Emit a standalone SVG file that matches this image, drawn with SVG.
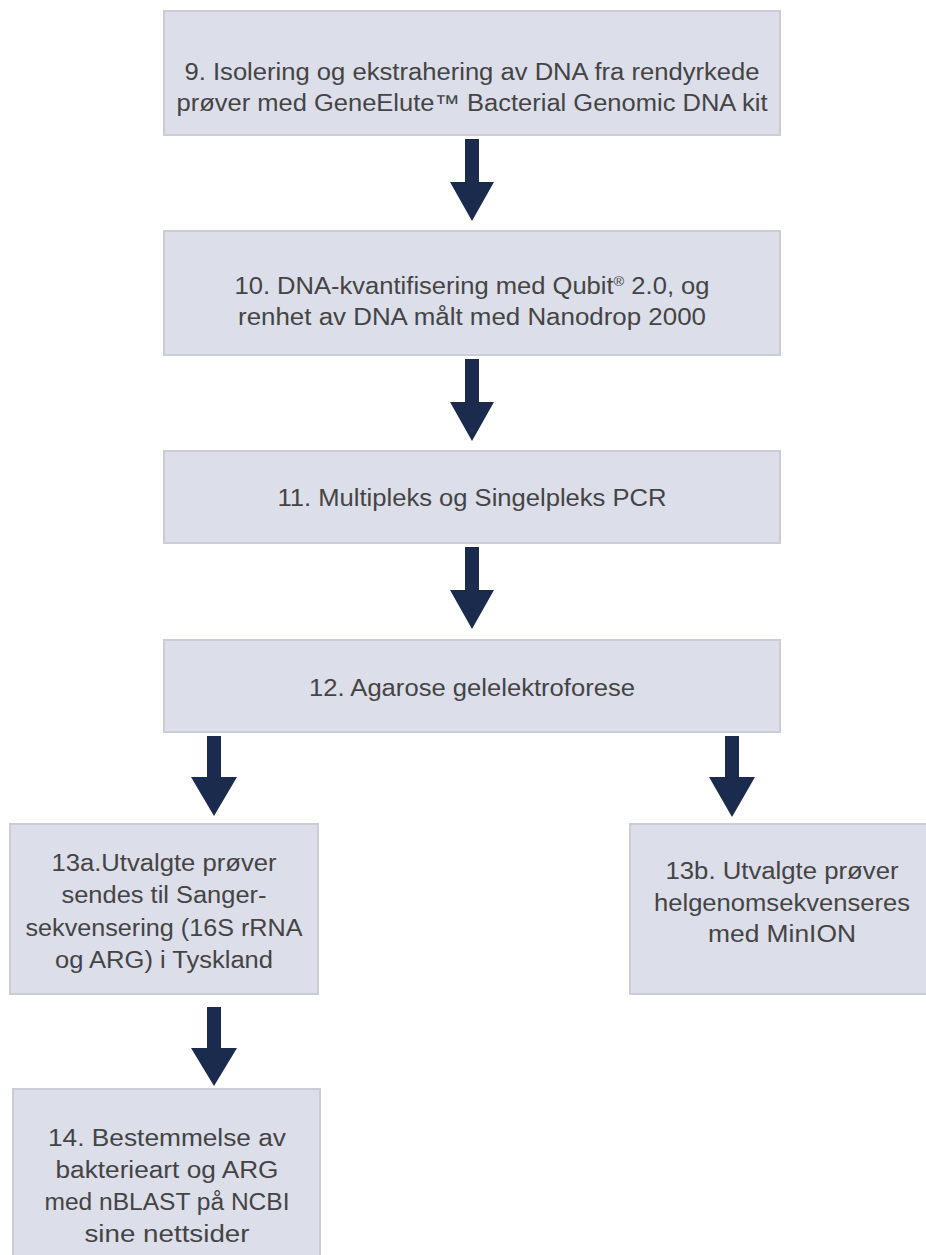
<svg xmlns="http://www.w3.org/2000/svg" width="926" height="1255" viewBox="0 0 926 1255">
<style>
.box{fill:#dcdeea;stroke:#cbccd6;stroke-width:2}
.t{font-family:"Liberation Sans",Arial,sans-serif;font-size:23px;fill:#444444;text-anchor:middle}
.sup{font-size:13px}
.arr{fill:#1b2b4d}
</style>
<rect width="926" height="1255" fill="#ffffff"/>
<g id="connectors">
<path class="arr" d="M465 139 H479 V182 H494 L472 221 L450 182 H465 Z"/>
<path class="arr" d="M465 359 H479 V402 H494 L472 441 L450 402 H465 Z"/>
<path class="arr" d="M465 547 H479 V590 H494 L472 629 L450 590 H465 Z"/>
<path class="arr" d="M207 736 H221 V777 H237 L214 816 L191 777 H207 Z"/>
<path class="arr" d="M725 736 H739 V777 H755 L732 817 L709 777 H725 Z"/>
<path class="arr" d="M207 1007 H221 V1048 H237 L214 1086 L191 1048 H207 Z"/>
</g>
<g id="n9">
<rect class="box" x="164" y="11" width="616" height="124"/>
<text class="t" x="472" y="80" textLength="575" lengthAdjust="spacingAndGlyphs">9. Isolering og ekstrahering av DNA fra rendyrkede</text>
<text class="t" x="472" y="111" textLength="591" lengthAdjust="spacingAndGlyphs">prøver med GeneElute™ Bacterial Genomic DNA kit</text>
</g>
<g id="n10">
<rect class="box" x="164" y="231" width="616" height="124"/>
<text class="t" x="472" y="294" textLength="475" lengthAdjust="spacingAndGlyphs">10. DNA-kvantifisering med Qubit<tspan class="sup" dy="-8">®</tspan><tspan dy="8"> 2.0, og</tspan></text>
<text class="t" x="472" y="325" textLength="468" lengthAdjust="spacingAndGlyphs">renhet av DNA målt med Nanodrop 2000</text>
</g>
<g id="n11">
<rect class="box" x="164" y="451" width="616" height="92"/>
<text class="t" x="472" y="506" textLength="389" lengthAdjust="spacingAndGlyphs">11. Multipleks og Singelpleks PCR</text>
</g>
<g id="n12">
<rect class="box" x="164" y="640" width="616" height="92"/>
<text class="t" x="472" y="696" textLength="326" lengthAdjust="spacingAndGlyphs">12. Agarose gelelektroforese</text>
</g>
<g id="n13a">
<rect class="box" x="10" y="824" width="308" height="170"/>
<text class="t" x="164" y="871" textLength="225" lengthAdjust="spacingAndGlyphs">13a.Utvalgte prøver</text>
<text class="t" x="164" y="903" textLength="205" lengthAdjust="spacingAndGlyphs">sendes til Sanger-</text>
<text class="t" x="164" y="936" textLength="277" lengthAdjust="spacingAndGlyphs">sekvensering (16S rRNA</text>
<text class="t" x="164" y="968" textLength="218" lengthAdjust="spacingAndGlyphs">og ARG) i Tyskland</text>
</g>
<g id="n13b">
<rect class="box" x="630" y="824" width="300" height="170"/>
<text class="t" x="782" y="879" textLength="233" lengthAdjust="spacingAndGlyphs">13b. Utvalgte prøver</text>
<text class="t" x="782" y="911" textLength="256" lengthAdjust="spacingAndGlyphs">helgenomsekvenseres</text>
<text class="t" x="782" y="942" textLength="148" lengthAdjust="spacingAndGlyphs">med MinION</text>
</g>
<g id="n14">
<rect class="box" x="13" y="1089" width="307" height="180"/>
<text class="t" x="167" y="1146" textLength="238" lengthAdjust="spacingAndGlyphs">14. Bestemmelse av</text>
<text class="t" x="167" y="1178" textLength="223" lengthAdjust="spacingAndGlyphs">bakterieart og ARG</text>
<text class="t" x="167" y="1210" textLength="245" lengthAdjust="spacingAndGlyphs">med nBLAST på NCBI</text>
<text class="t" x="167" y="1242" textLength="165" lengthAdjust="spacingAndGlyphs">sine nettsider</text>
</g>
</svg>
